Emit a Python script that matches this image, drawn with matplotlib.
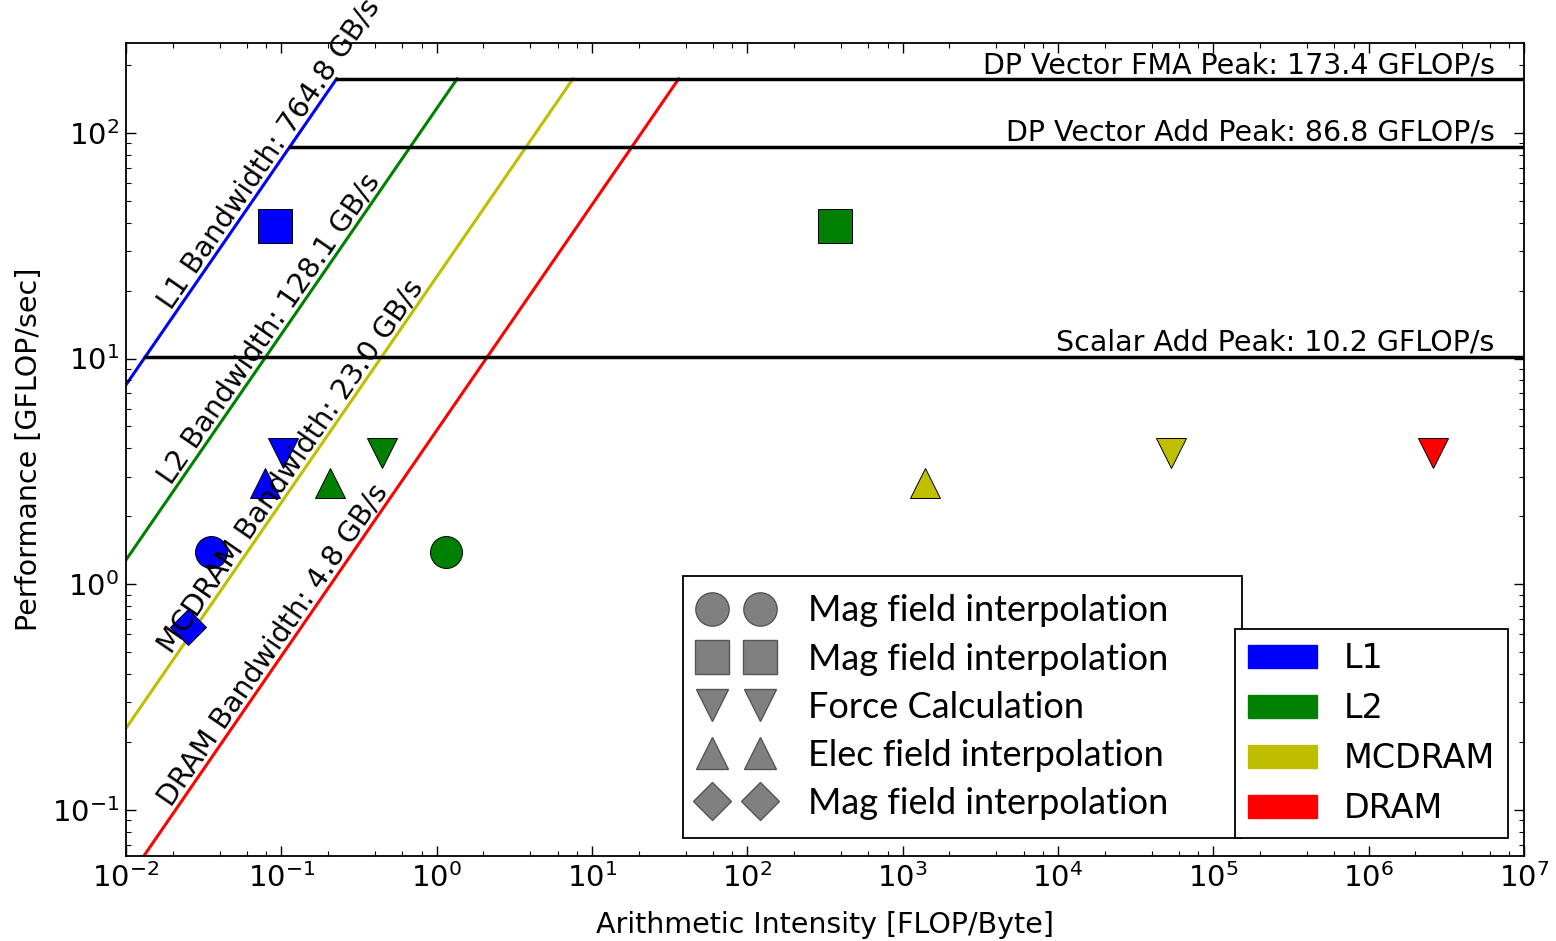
import matplotlib
matplotlib.use('Agg')
import matplotlib.pyplot as plt
import matplotlib.patches as mpatches
from matplotlib.lines import Line2D
from matplotlib.ticker import LogLocator, NullFormatter
import numpy as np

plt.rcParams['axes.unicode_minus'] = False

# memory roofs (GB/s) and compute roofs (GFLOP/s)
mem_names = ['L1', 'L2', 'MCDRAM', 'DRAM']
mem_bw = [764.8, 128.1, 23.0, 4.8]
mem_colors = ['b', 'g', 'y', 'r']
peak_names = ['DP Vector FMA Peak', 'DP Vector Add Peak', 'Scalar Add Peak']
peak_vals = [173.4, 86.8, 10.2]

# kernels (same performance, different arithmetic intensity per memory level)
kernel_names = ['Mag field interpolation', 'Mag field interpolation', 'Force Calculation',
                'Elec field interpolation', 'Mag field interpolation']
kernel_markers = ['o', 's', 'v', '^', 'D']
kernel_sizes = [23, 24, 22, 22, 18]
kernel_gflops = [1.39, 38.7, 3.83, 2.82, 0.644]
nan = np.nan
ai_l1 = [0.0352, 0.091, 0.1025, 0.0785, 0.0251]
ai_l2 = [1.15, 367.0, 0.445, 0.206, nan]
ai_mcdram = [nan, nan, 53600.0, 1397.0, nan]
ai_dram = [nan, nan, 2.6e6, nan, nan]
ai_levels = [ai_l1, ai_l2, ai_mcdram, ai_dram]

xmin, xmax = 1e-2, 1e7
ymin, ymax = 0.0625, 250

fig = plt.figure(figsize=(15.56, 9.41), dpi=100)
ax = fig.add_axes([126 / 1556, 1 - 856 / 941, 1398 / 1556, 813 / 941])
ax.set_xscale('log')
ax.set_yscale('log')
ax.set_xlim(xmin, xmax)
ax.set_ylim(ymin, ymax)

# angle of a bandwidth line on screen
p1 = ax.transData.transform((1e-2, 1e-1))
p2 = ax.transData.transform((1e-1, 1.0))
ang = np.degrees(np.arctan2(p2[1] - p1[1], p2[0] - p1[0]))

# compute roofs
for name, pk in zip(peak_names, peak_vals):
    x0 = pk / mem_bw[0]
    ax.plot([x0, xmax], [pk, pk], c='k', lw=2.5, zorder=2)
    ax.text(0.979, pk * 1.06, '%s: %.1f GFLOP/s' % (name, pk), transform=ax.get_yaxis_transform(),
            ha='right', va='baseline', fontsize=20.5)

# memory roofs
x_lab = 0.0195
for name, bw, c in zip(mem_names, mem_bw, mem_colors):
    x1 = peak_vals[0] / bw
    ax.plot([xmin, x1], [bw * xmin, bw * x1], c=c, lw=2.2, zorder=1)
    ax.text(x_lab, bw * x_lab * 1.09, '%s Bandwidth: %.1f GB/s' % (name, bw), rotation=ang,
            rotation_mode='anchor', ha='left', va='baseline', fontsize=20.5, zorder=4)

# measured kernels
for ai, c in zip(ai_levels, mem_colors):
    for i in range(len(ai)):
        if np.isnan(ai[i]):
            continue
        ax.plot(ai[i], kernel_gflops[i], ls='none', marker=kernel_markers[i], ms=kernel_sizes[i],
                mfc=c, mec='k', mew=0.7, zorder=3)

ax.set_xlabel('Arithmetic Intensity [FLOP/Byte]', fontsize=20.5, labelpad=13)
ax.set_ylabel('Performance [GFLOP/sec]', fontsize=20.5, labelpad=6)
ax.xaxis.set_minor_locator(LogLocator(subs=(2, 4, 6, 8), numticks=20))
ax.xaxis.set_minor_formatter(NullFormatter())
ax.yaxis.set_minor_formatter(NullFormatter())
ax.tick_params(which='both', direction='in', top=True, right=True, labelsize=21)
ax.tick_params(which='major', length=7, width=1, pad=5)
ax.tick_params(which='minor', length=3.5, width=0.8)
for sp in ax.spines.values():
    sp.set_linewidth(1.3)

# legends
shape_handles = [Line2D([], [], ls='none', marker=m, ms=s + 1, mfc='#808080', mec='#555555', mew=1)
                 for m, s in zip(kernel_markers, kernel_sizes)]
leg1 = ax.legend(shape_handles, kernel_names, loc='lower left', bbox_to_anchor=(0.3985, 0.022, 0.40, 0.3),
                 mode='expand', numpoints=2, prop={'family': 'Lato', 'size': 26}, fancybox=False,
                 edgecolor='k', framealpha=1, borderpad=0.5, handlelength=1.93, handletextpad=1.02,
                 labelspacing=0.42, borderaxespad=0)
leg1.get_frame().set_linewidth(1.3)
ax.add_artist(leg1)

color_handles = [mpatches.Patch(color=c) for c in mem_colors]
leg2 = ax.legend(color_handles, mem_names, loc='lower right', bbox_to_anchor=(0.9886, 0.022),
                 prop={'size': 24}, fancybox=False, edgecolor='k', framealpha=1, borderpad=0.39,
                 handlelength=2.07, handletextpad=0.81, labelspacing=0.51, borderaxespad=0)
leg2.get_frame().set_linewidth(1.3)

fig.savefig('out.png', dpi=100)
